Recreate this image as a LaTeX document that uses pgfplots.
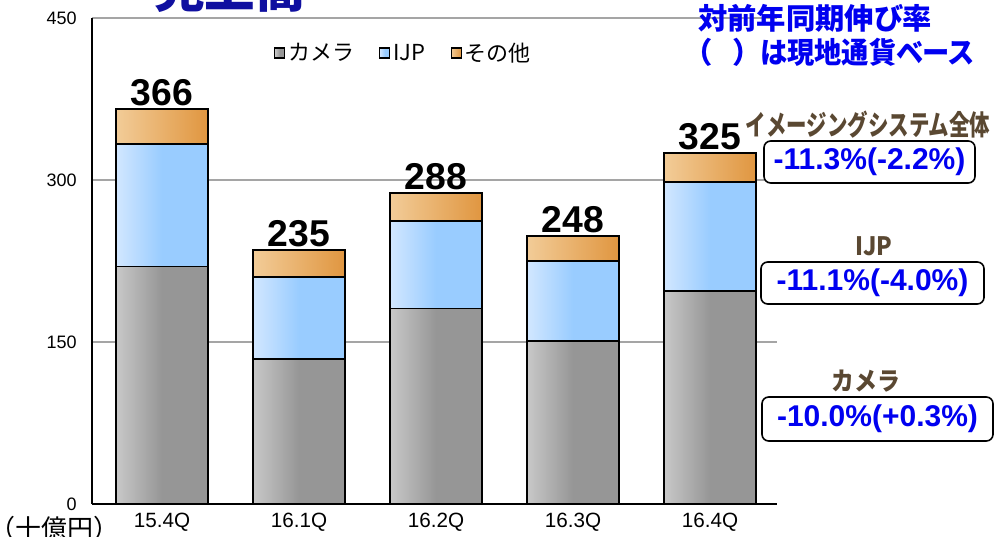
\documentclass[border=0pt]{standalone}
\usepackage{pgfplots}
\pgfplotsset{compat=1.18}
\usepackage{pgfplotstable}
\usepackage{fontspec}
\setmainfont{Liberation Sans}
\newfontfamily\jp{Noto Sans CJK JP}
\newfontfamily\jpp{Noto Sans CJK JP}[RawFeature=+palt]
\definecolor{gL}{RGB}{200,200,200}
\definecolor{gR}{RGB}{150,150,150}
\definecolor{bL}{RGB}{210,231,255}
\definecolor{bR}{RGB}{153,204,255}
\definecolor{oL}{RGB}{242,204,152}
\definecolor{oR}{RGB}{224,150,64}
\definecolor{ttl}{RGB}{16,16,160}
\definecolor{blu}{RGB}{0,0,240}
\definecolor{brn}{RGB}{90,72,50}
\definecolor{grd}{RGB}{165,165,165}
\pgfplotstableread{
x cam ijp oth tot
0 220 113 33 366
1 134 76 25 235
2 181 81 26 288
3 151 74 23 248
4 197 101 27 325
}\data
\begin{document}
\begin{tikzpicture}
\begin{axis}[
  width=513.75pt, height=364.5pt, scale only axis,
  xmin=-0.511, xmax=4.489, ymin=0, ymax=450,
  ybar, bar width=0.67, bar shift=0pt,
  xtick={0,1,2,3,4}, xticklabels={15.4Q,16.1Q,16.2Q,16.3Q,16.4Q},
  ytick={0,150,300,450},
  axis lines=left, axis line style={-, black, line width=1.1pt},
  major tick length=0pt,
  ymajorgrids, grid style={grd, line width=1pt},
  /pgf/number format/assume math mode=true,
  yticklabel style={font=\fontsize{13.5pt}{16pt}\selectfont, xshift=-8pt},
  xticklabel style={font=\fontsize{15.5pt}{18pt}\selectfont, yshift=-3pt},
  legend style={at={(0.455,0.928)}, anchor=center, draw=none, fill=none,
    font=\jp\fontsize{16.5pt}{19pt}\selectfont, legend columns=3,
    /tikz/every even column/.append style={column sep=17pt},
    /tikz/every odd column/.append style={column sep=0pt}},
  legend image code/.code={\draw[#1, line width=0.8pt] (0pt,-3.75pt) rectangle (7.5pt,3.75pt);},
]
\addlegendimage{draw=black, left color=gL, right color=gR, middle color=gR}
\addlegendentry{カメラ}
\addlegendimage{draw=black, left color=bL, right color=bR, middle color=bR}
\addlegendentry{IJP}
\addlegendimage{draw=black, left color=oL, right color=oR, middle color=oL!50!oR}
\addlegendentry{その他}
\pgfplotsinvokeforeach{0,...,4}{
  \addplot[forget plot, bar shift=0pt, draw=black, line width=1.3pt,
    left color=oL, right color=oR, middle color=oL!50!oR,
    nodes near coords, point meta=explicit,
    nodes near coords style={font=\bfseries\fontsize{28pt}{32pt}\selectfont, anchor=south, inner sep=1.5pt, black},
    x filter/.expression={x==#1 ? x : nan}]
    table[x=x, y=tot, meta=tot] {\data};
  \addplot[forget plot, bar shift=0pt, draw=black, line width=1.3pt,
    left color=bL, right color=bR, middle color=bR,
    x filter/.expression={x==#1 ? x : nan}]
    table[x=x, y expr=\thisrow{cam}+\thisrow{ijp}] {\data};
  \addplot[forget plot, bar shift=0pt, draw=black, line width=1.3pt,
    left color=gL, right color=gR, middle color=gR,
    x filter/.expression={x==#1 ? x : nan}]
    table[x=x, y=cam] {\data};
}
\end{axis}
\begin{scope}[x=0.75pt,y=-0.75pt,shift={(-69pt,378pt)}]
\node[anchor=base, text=ttl, font=\jp\bfseries\fontsize{38pt}{40pt}\selectfont] at (230,7.5) {売上高};
\node[anchor=west, text=blu, font=\jpp\bfseries\fontsize{22pt}{24pt}\selectfont, inner sep=0pt] at (698,18) {対前年同期伸び率};
\node[text=blu, font=\jpp\bfseries\fontsize{22pt}{24pt}\selectfont, inner sep=0pt] at (704,52) {（};
\node[text=blu, font=\jpp\bfseries\fontsize{22pt}{24pt}\selectfont, inner sep=0pt] at (741,52) {）};
\node[anchor=west, text=blu, font=\jpp\bfseries\fontsize{22pt}{24pt}\selectfont, inner sep=0pt] at (760,52) {\scalebox{0.93}[1]{は現地通貨ベース}};
\node[text=brn, font=\jp\bfseries\fontsize{21pt}{24pt}\selectfont, inner sep=0pt] at (868,125) {\scalebox{0.73}[1]{イメージングシステム全体}};
\node[text=brn, font=\jp\bfseries\fontsize{19pt}{22pt}\selectfont, inner sep=0pt] at (874,246) {\scalebox{0.9}[1]{IJP}};
\node[text=brn, font=\jp\bfseries\fontsize{19pt}{22pt}\selectfont, inner sep=0pt] at (866,381) {\scalebox{0.9}[1]{カメラ}};
\tikzset{bx/.style={draw=black, fill=white, rounded corners=5pt, line width=1.2pt, inner sep=0pt, text=blu, font=\bfseries\fontsize{22.5pt}{26pt}\selectfont}}
\node[bx, minimum width=158.25pt, minimum height=31.5pt] at (869.5,162) {-11.3\%(-2.2\%)};
\node[bx, minimum width=167.25pt, minimum height=31.5pt] at (872.5,283) {-11.1\%(-4.0\%)};
\node[bx, minimum width=173.25pt, minimum height=33pt] at (877.5,419) {-10.0\%(+0.3\%)};
\node[anchor=north, font=\jp\fontsize{19.5pt}{22pt}\selectfont, inner sep=0pt] at (55,516) {（十億円）};
\pgfresetboundingbox
\path[use as bounding box] (0,0) rectangle (994,536);
\end{scope}
\end{tikzpicture}
\end{document}
